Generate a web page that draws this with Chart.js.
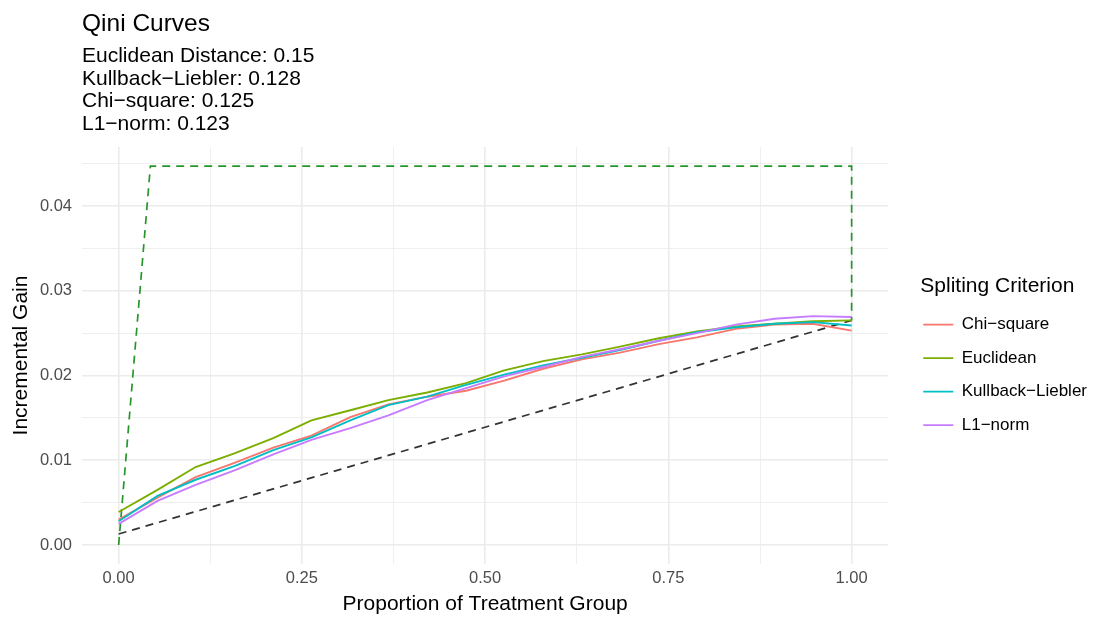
<!DOCTYPE html>
<html>
<head>
<meta charset="utf-8">
<script src="https://cdn.jsdelivr.net/npm/chart.js@4"></script>
<style>
  html, body { margin: 0; padding: 0; background: #fff; }
  #wrap { width: 1097px; height: 621px; position: relative; }
</style>
</head>
<body>
<div id="wrap"><canvas id="qini"></canvas></div>
<script>
// values
const proportion = [0, 0.053, 0.105, 0.158, 0.211, 0.263, 0.316, 0.368, 0.421, 0.474,
                    0.526, 0.579, 0.632, 0.684, 0.737, 0.789, 0.842, 0.895, 0.947, 1];
const chiSquare = [0.0030, 0.0056, 0.0080, 0.0097, 0.0115, 0.0129, 0.0151, 0.0166, 0.0175, 0.0182,
                   0.0194, 0.0208, 0.0219, 0.0227, 0.0237, 0.0245, 0.0255, 0.0260, 0.0261, 0.0253];
const euclidean = [0.0039, 0.0065, 0.0092, 0.0108, 0.0126, 0.0147, 0.0159, 0.0171, 0.0180, 0.0191,
                   0.0206, 0.0217, 0.0225, 0.0234, 0.0244, 0.0252, 0.0258, 0.0261, 0.0264, 0.0265];
const kullbackLeibler = [0.0028, 0.0058, 0.0077, 0.0093, 0.0112, 0.0127, 0.0147, 0.0165, 0.0175, 0.0189,
                         0.0201, 0.0212, 0.0221, 0.0230, 0.0241, 0.0251, 0.0257, 0.0261, 0.0263, 0.0259];
const l1Norm = [0.0025, 0.0052, 0.0071, 0.0088, 0.0107, 0.0124, 0.0138, 0.0153, 0.0171, 0.0185,
                0.0199, 0.0210, 0.0222, 0.0231, 0.0241, 0.0250, 0.0260, 0.0267, 0.0270, 0.0269];

// reference lines
const randomX = [0, 1];
const randomY = [0.0013, 0.0265];
const perfectX = [0, 0.0433, 1, 1];
const perfectY = [0, 0.0447, 0.0447, 0.0265];

const seriesNames = ['Chi−square', 'Euclidean', 'Kullback−Liebler', 'L1−norm'];
const seriesColors = ['#F8766D', '#7CAE00', '#00BFC4', '#C77CFF'];

const xMajorTicks = [0, 0.25, 0.5, 0.75, 1];
const xMinorTicks = [0.125, 0.375, 0.625, 0.875];
const yMajorTicks = [0, 0.01, 0.02, 0.03, 0.04];
const yMinorTicks = [0.005, 0.015, 0.025, 0.035, 0.045];

const subtitleLines = [
    'Euclidean Distance: 0.15',
    'Kullback−Liebler: 0.128',
    'Chi−square: 0.125',
    'L1−norm: 0.123'
];

const FONT = "'Liberation Sans', Arial, sans-serif";

function pts(xs, ys) {
    return xs.map((x, i) => ({ x: x, y: ys[i] }));
}

function isMajor(list, v) {
    return list.some(m => Math.abs(m - v) < 1e-9);
}

function setTicks(major, minor) {
    return scale => {
        scale.ticks = major.concat(minor).sort((a, b) => a - b).map(v => ({ value: v }));
    };
}

const curves = [chiSquare, euclidean, kullbackLeibler, l1Norm];
const datasets = curves.map((vals, i) => ({
    label: seriesNames[i],
    data: pts(proportion, vals),
    borderColor: seriesColors[i],
    backgroundColor: seriesColors[i],
    borderWidth: 1.9,
    pointRadius: 0,
    tension: 0,
    order: 3 - i
}));

datasets.push({
    label: 'random',
    data: pts(randomX, randomY),
    borderColor: '#333333',
    borderWidth: 1.7,
    borderDash: [8, 6],
    pointRadius: 0,
    order: 5
});
datasets.push({
    label: 'perfect',
    data: pts(perfectX, perfectY),
    borderColor: '#26962A',
    borderWidth: 1.7,
    borderDash: [8, 6],
    pointRadius: 0,
    order: 4
});

const gridColor = '#EBEBEB';

new Chart(document.getElementById('qini'), {
    type: 'line',
    data: { datasets: datasets },
    options: {
        responsive: true,
        maintainAspectRatio: false,
        animation: false,
        layout: { padding: { left: 0, right: 0, top: 0, bottom: 0 } },
        plugins: {
            tooltip: { enabled: false },
            title: {
                display: true,
                text: 'Qini Curves',
                align: 'start',
                fullSize: false,
                color: '#000',
                font: { family: FONT, size: 24.5, weight: 'normal', lineHeight: 1.2 },
                padding: { top: 9.3, bottom: 2 }
            },
            subtitle: {
                display: true,
                text: subtitleLines,
                align: 'start',
                fullSize: false,
                color: '#000',
                font: { family: FONT, size: 21, weight: 'normal', lineHeight: 22.6 / 21 },
                padding: { top: 4.5, bottom: 11.4 }
            },
            legend: {
                position: 'right',
                fullSize: false,
                align: 'center',
                title: {
                    display: true,
                    text: 'Spliting Criterion',
                    position: 'start',
                    color: '#000',
                    font: { family: FONT, size: 21, lineHeight: 1.2 },
                    padding: { top: 15, bottom: 12 }
                },
                labels: {
                    usePointStyle: true,
                    pointStyle: 'line',
                    pointStyleWidth: 30,
                    padding: 3,
                    color: '#000',
                    font: { family: FONT, size: 17, lineHeight: 30.5 / 17 },
                    filter: item => item.datasetIndex < 4,
                    sort: (a, b) => a.datasetIndex - b.datasetIndex,
                    generateLabels: chart => {
                        const items = Chart.defaults.plugins.legend.labels.generateLabels(chart);
                        items.forEach(it => { it.text = [it.text]; });
                        return items;
                    }
                }
            }
        },
        scales: {
            x: {
                type: 'linear',
                min: -0.05,
                max: 1.05,
                afterBuildTicks: setTicks(xMajorTicks, xMinorTicks),
                afterFit: s => { s.height = 57; },
                border: { display: false },
                grid: {
                    drawTicks: false,
                    color: gridColor,
                    lineWidth: c => isMajor(xMajorTicks, c.tick.value) ? 1.6 : 0.8
                },
                ticks: {
                    autoSkip: false,
                    maxRotation: 0,
                    padding: 5,
                    color: '#4D4D4D',
                    font: { family: FONT, size: 16.5 },
                    callback: v => isMajor(xMajorTicks, v) ? v.toFixed(2) : ''
                },
                title: {
                    display: true,
                    text: 'Proportion of Treatment Group',
                    color: '#000',
                    font: { family: FONT, size: 21, lineHeight: 1.2 },
                    padding: { top: 2, bottom: 4 }
                }
            },
            y: {
                type: 'linear',
                min: -0.00224,
                max: 0.04696,
                afterBuildTicks: setTicks(yMajorTicks, yMinorTicks),
                afterFit: s => { s.width = 82; },
                border: { display: false },
                grid: {
                    drawTicks: false,
                    color: gridColor,
                    lineWidth: c => isMajor(yMajorTicks, c.tick.value) ? 1.6 : 0.8
                },
                ticks: {
                    autoSkip: false,
                    padding: 10,
                    color: '#4D4D4D',
                    font: { family: FONT, size: 16.5 },
                    callback: v => isMajor(yMajorTicks, v) ? v.toFixed(2) : ''
                },
                title: {
                    display: true,
                    text: 'Incremental Gain',
                    color: '#000',
                    font: { family: FONT, size: 21, lineHeight: 1.2 },
                    padding: { top: 9, bottom: 4 }
                }
            },
            // empty axis, only keeps the gap between panel and legend
            gap: {
                type: 'linear',
                position: 'right',
                display: true,
                afterFit: s => { s.width = 32; },
                border: { display: false },
                grid: { display: false },
                ticks: { display: false }
            }
        }
    }
});
</script>
</body>
</html>
